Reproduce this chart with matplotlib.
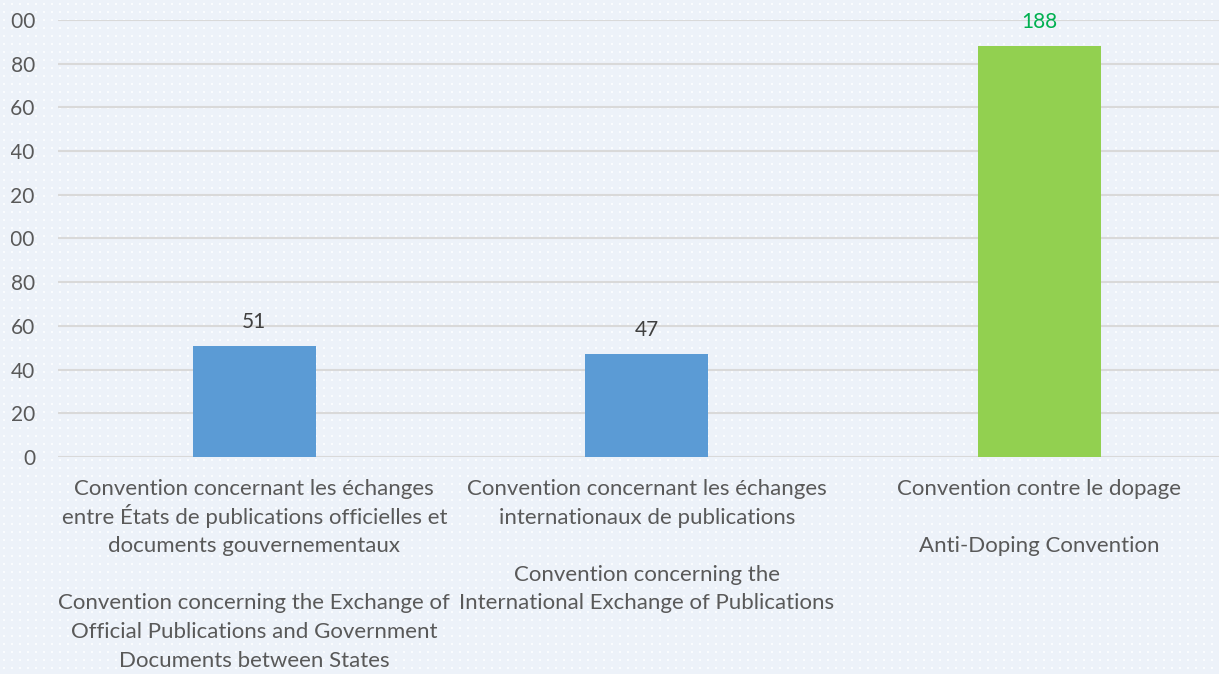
#!/usr/bin/env python3
"""
Bar chart: number of States Parties for three UNESCO conventions.
Writes out.png (1219x674).
"""

import numpy as np
import matplotlib
matplotlib.use("Agg")  # headless
import matplotlib.pyplot as plt
from matplotlib.transforms import Bbox

# --- data ---------------------------------------------------------------
categories = [
    "Convention concernant les échanges\nentre États de publications officielles et\n"
    "documents gouvernementaux\n\nConvention concerning the Exchange of\n"
    "Official Publications and Government\nDocuments between States",
    "Convention concernant les échanges\ninternationaux de publications\n\n"
    "Convention concerning the\nInternational Exchange of Publications",
    "Convention contre le dopage\n\nAnti-Doping Convention",
]
values = [51, 47, 188]
bar_colors = ["#5B9BD5", "#5B9BD5", "#92D050"]
label_colors = ["#404040", "#404040", "#00B050"]
y_ticks = list(range(0, 201, 20))

W, H, DPI = 1219, 674, 100
BG = "#EDF2F9"
TEXT = "#595959"

plt.rcParams["font.family"] = ["Lato", "DejaVu Sans"]

fig = plt.figure(figsize=(W / DPI, H / DPI), dpi=DPI, facecolor=BG)

# dotted background texture
bg = np.empty((H, W, 3))
bg[:] = matplotlib.colors.to_rgb(BG)
dot = matplotlib.colors.to_rgb("#FAFCFE")
for r in range(3, H, 8):
    for c in range(3, W, 8):
        bg[r:r + 2, c:c + 2] = dot
fig.figimage(bg, xo=0, yo=0, zorder=-1)

# axes deliberately run off the right edge (the source image is cropped)
left, right = 58 / W, 1235.5 / W
bottom, top = (H - 457) / H, (H - 20) / H
ax = fig.add_axes([left, bottom, right - left, top - bottom])
ax.set_facecolor("none")

x = np.arange(len(values))
bars = ax.bar(x, values, width=0.314, color=bar_colors, zorder=3)

for b, v, c in zip(bars, values, label_colors):
    ax.annotate(f"{v}", (b.get_x() + b.get_width() / 2, v),
                xytext=(0, 18), textcoords="offset pixels",
                ha="center", va="baseline", fontsize=15, color=c)

ax.set_xlim(-0.5, 2.5)
ax.set_ylim(0, 200)
ax.set_yticks(y_ticks)
ax.set_yticklabels([str(t) for t in y_ticks], fontsize=15, color=TEXT)
ax.tick_params(axis="y", length=0, pad=16.5)

# the source is cut on the left, hiding the hundreds digit
clip = Bbox([[11, 0], [W, H]])
for lab in ax.get_yticklabels():
    lab.set_clip_box(clip)
    lab.set_clip_on(True)

# category labels, one line at a time for even spacing
ax.set_xticks(x)
ax.set_xticklabels([])
ax.tick_params(axis="x", length=0)
for i, cat in enumerate(categories):
    for j, line in enumerate(cat.split("\n")):
        if not line:
            continue
        ax.annotate(line, (i, 0), xycoords=("data", "axes fraction"),
                    xytext=(0, -38 - 28.6 * j), textcoords="offset pixels",
                    ha="center", va="baseline", fontsize=16, color=TEXT,
                    annotation_clip=False)

ax.grid(axis="y", color="#D9D9D9", linewidth=1.5, zorder=1)
ax.set_axisbelow(True)
for s in ax.spines.values():
    s.set_visible(False)

fig.savefig("out.png", dpi=DPI, facecolor=BG)
